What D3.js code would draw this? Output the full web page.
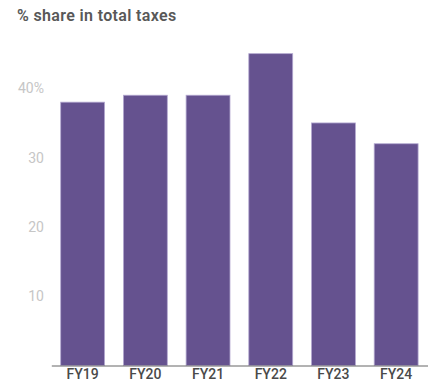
<!DOCTYPE html>
<html>
<head>
<meta charset="utf-8">
<script src="https://cdn.jsdelivr.net/npm/d3@7/dist/d3.min.js"></script>
<style>
  html, body { margin: 0; padding: 0; background: #fff; }
  svg { display: block; font-family: Roboto, "Noto Sans", sans-serif; }
</style>
</head>
<body>
<svg id="chart" width="432" height="382"></svg>
<script>
// Share of total taxes by fiscal year (%)
const years = ["FY19", "FY20", "FY21", "FY22", "FY23", "FY24"];
const shares = [38, 39, 39, 45, 35, 32];
const yTicks = [10, 20, 30, 40];
const title = "% share in total taxes";

const svg = d3.select("#chart");

const x = d3.scaleBand()
  .domain(years)
  .range([51.3, 427.5])
  .paddingInner(0.3)
  .paddingOuter(0.15);

const y = d3.scaleLinear()
  .domain([0, 50])
  .range([365.5, 19]);

// title
svg.append("text")
  .attr("x", 17)
  .attr("y", 21)
  .attr("fill", "#585858")
  .attr("font-size", 16)
  .attr("font-weight", 600)
  .attr("letter-spacing", 0.35)
  .text(title);

// y-axis labels (no line or ticks)
const yAxis = d3.axisLeft(y)
  .tickValues(yTicks)
  .tickSize(0)
  .tickPadding(0)
  .tickFormat(d => d === 40 ? d + "%" : d);

const gy = svg.append("g")
  .attr("transform", "translate(44,0)")
  .call(yAxis);
gy.select(".domain").remove();
gy.selectAll("text")
  .attr("fill", "#c6c6c6")
  .attr("font-size", 14)
  .attr("font-family", "Roboto, sans-serif");

// bars
svg.append("g")
  .selectAll("rect")
  .data(years.map((d, i) => ({ year: d, value: shares[i] })))
  .join("rect")
  .attr("x", d => x(d.year))
  .attr("y", d => y(d.value))
  .attr("width", x.bandwidth())
  .attr("height", d => y(0) - y(d.value))
  .attr("fill", "#65528f")
  .attr("stroke", "#b3a8d0")
  .attr("stroke-width", 0.8);

// x axis baseline and labels, kept inside the bottom edge
const xAxis = d3.axisBottom(x).tickSize(0).tickPadding(0);
const gx = svg.append("g")
  .attr("transform", `translate(0,${y(0)})`)
  .call(xAxis);
gx.select(".domain")
  .attr("stroke", "#666")
  .attr("stroke-width", 1);
gx.selectAll("text")
  .attr("dy", 0)
  .attr("y", 13)
  .attr("fill", "#4a4a4a")
  .attr("font-size", 14)
  .attr("font-weight", 500)
  .attr("font-family", "Roboto, sans-serif");
</script>
</body>
</html>
